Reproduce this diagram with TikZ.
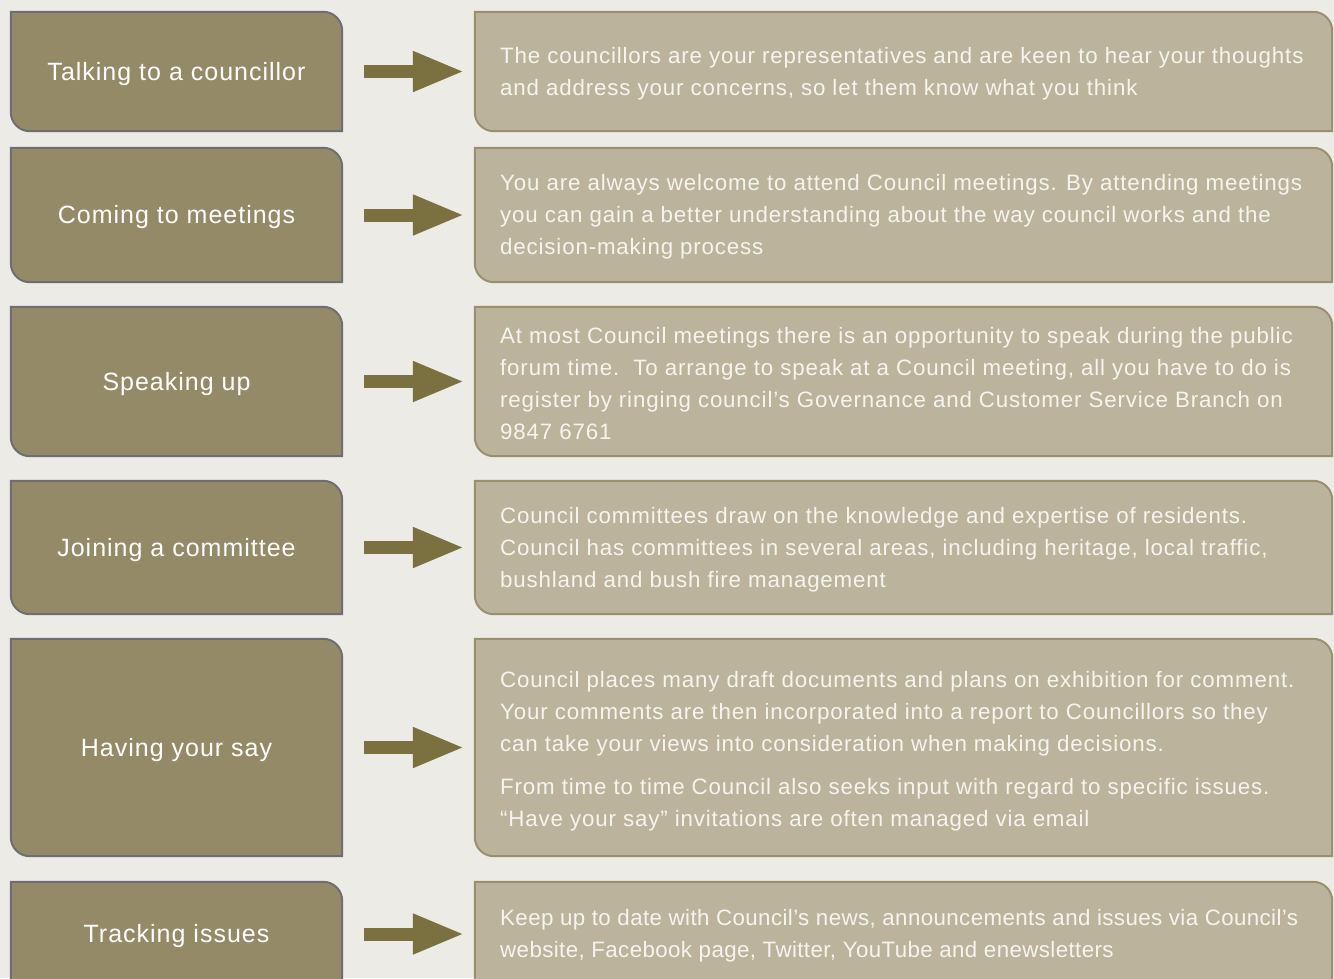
\documentclass[tikz,border=0pt]{standalone}
\usepackage{fontspec}
\setmainfont{Liberation Sans}
\newfontfamily\rfont[LetterSpace=3.8]{Liberation Sans}
\newfontfamily\rfontb[LetterSpace=1.8]{Liberation Sans}
\newfontfamily\lfont[LetterSpace=4]{Liberation Sans}
\usetikzlibrary{arrows.meta}
\definecolor{bg}{HTML}{EDEBE6}
\definecolor{lfill}{HTML}{958A67}
\definecolor{lline}{HTML}{6E6E72}
\definecolor{rfill}{HTML}{BBB39B}
\definecolor{rline}{HTML}{9A9070}
\definecolor{arrcol}{HTML}{7A7040}
\definecolor{rtext}{HTML}{F6F4EF}
\newcommand\boxshape[3]{%
  \path[#2] (#1.north west) -- ([xshift=-19pt]#1.north east)
    arc[start angle=90,end angle=0,radius=19pt]
    -- ([yshift=-#3]#1.south east) -- ([xshift=19pt,yshift=-#3]#1.south west)
    arc[start angle=270,end angle=180,radius=19pt] -- cycle;}
\tikzset{
  lbox/.style={draw=none,inner sep=0pt,minimum width=331pt},
  rbox/.style={draw=none,inner sep=0pt,minimum width=857pt},
  lshape/.style={fill=lfill,draw=lline,line width=2pt},
  rshape/.style={fill=rfill,draw=rline,line width=2pt},
  llabel/.style={text=white,yshift=-2.5pt,font=\lfont\fontsize{25}{28}\selectfont},
  rlabel/.style={text=rtext,anchor=west,align=left,inner sep=0pt,yshift=-2pt,font=\rfont\fontsize{22.3}{32}\selectfont},
  blockarrow/.style={draw=arrcol,line width=13pt,shorten <=22pt,shorten >=10pt,-{Triangle[length=52pt,width=37pt]}}
}
\begin{document}
\begin{tikzpicture}[x=1pt,y=1pt]
\useasboundingbox (0,0) rectangle (1334,-978);
\fill[bg] (0,0) rectangle (1334,-978);
% invisible box nodes
\node[lbox,minimum height=119pt] (B1) at (176.5,-71.5) {};
\node[rbox,minimum height=119pt] (C1) at (903.5,-71.5) {};
\node[lbox,minimum height=134pt] (B2) at (176.5,-215) {};
\node[rbox,minimum height=134pt] (C2) at (903.5,-215) {};
\node[lbox,minimum height=149pt] (B3) at (176.5,-381.5) {};
\node[rbox,minimum height=149pt] (C3) at (903.5,-381.5) {};
\node[lbox,minimum height=133pt] (B4) at (176.5,-547.5) {};
\node[rbox,minimum height=133pt] (C4) at (903.5,-547.5) {};
\node[lbox,minimum height=217pt] (B5) at (176.5,-747.5) {};
\node[rbox,minimum height=217pt] (C5) at (903.5,-747.5) {};
\node[lbox,minimum height=104pt] (B6) at (176.5,-934) {};
\node[rbox,minimum height=104pt] (C6) at (903.5,-934) {};
% shapes
\foreach \n in {1,...,5}{\boxshape{B\n}{lshape}{0pt}\boxshape{C\n}{rshape}{0pt}}
\boxshape{B6}{lshape}{20pt}
\boxshape{C6}{rshape}{20pt}
% arrows
\foreach \n in {1,...,6}{\draw[blockarrow] (B\n.east) -- (C\n.west);}
% left labels
\node[llabel] (L1) at (B1.center) {Talking to a councillor};
\node[llabel] (L2) at (B2.center) {Coming to meetings};
\node[llabel] (L3) at (B3.center) {Speaking up};
\node[llabel] (L4) at (B4.center) {Joining a committee};
\node[llabel] (L5) at (B5.center) {Having your say};
\node[llabel] (L6) at (B6.center) {Tracking issues};
% right texts
\node[rlabel] (T1) at (500,-71.5) {The councillors are your representatives and are keen to hear your thoughts\\and address your concerns, so let them know what you think};
\node[rlabel] (T2) at (500,-215) {You are always welcome to attend Council meetings. By attending meetings\\you can gain a better understanding about the way council works and the\\decision-making process};
\node[rlabel] (T3) at (500,-381.5) {At most Council meetings there is an opportunity to speak during the public\\forum time.\ \ To arrange to speak at a Council meeting, all you have to do is\\register by ringing council’s Governance and Customer Service Branch on\\9847 6761};
\node[rlabel] (T4) at (500,-547.5) {Council committees draw on the knowledge and expertise of residents.\\Council has committees in several areas, including heritage, local traffic,\\bushland and bush fire management};
\node[rlabel] (T5) at (500,-749) {Council places many draft documents and plans on exhibition for comment.\\Your comments are then incorporated into a report to Councillors so they\\can take your views into consideration when making decisions.\\[11pt]From time to time Council also seeks input with regard to specific issues.\\“Have your say” invitations are often managed via email};
\node[rlabel,font=\rfontb\fontsize{22.3}{32}\selectfont] (T6) at (500,-934) {Keep up to date with Council’s news, announcements and issues via Council’s\\website, Facebook page, Twitter, YouTube and enewsletters};
\end{tikzpicture}
\end{document}
